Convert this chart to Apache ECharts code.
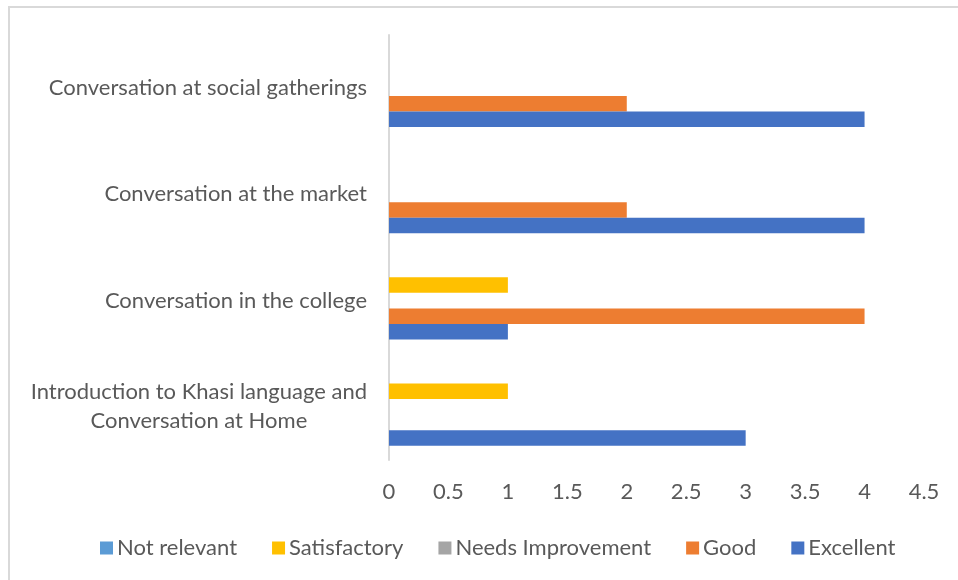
<!DOCTYPE html>
<html>
<head>
<meta charset="utf-8">
<script src="https://cdn.jsdelivr.net/npm/echarts@6/dist/echarts.min.js"></script>
<style>
  html, body { margin: 0; padding: 0; background: #fff; }
  #frame { position: absolute; left: 8px; top: 6px; width: 950px; height: 574px;
           border-top: 2px solid #d9d9d9; border-left: 2px solid #d9d9d9; box-sizing: border-box; }
  #chart { position: absolute; left: 0; top: 0; width: 958px; height: 580px; }
</style>
</head>
<body>
<div id="frame"></div>
<div id="chart"></div>
<script>
// categories bottom -> top
const categories = [
  'Introduction to Khasi language and\nConversation at Home',
  'Conversation in the college',
  'Conversation at the market',
  'Conversation at social gatherings'
]
const excellent = [3, 1, 4, 4]
const good = [0, 4, 2, 2]
const needsImprovement = [0, 0, 0, 0]
const satisfactory = [1, 1, 0, 0]
const notRelevant = [0, 0, 0, 0]
const legendOrder = ['Not relevant', 'Satisfactory', 'Needs Improvement', 'Good', 'Excellent']

const font = 'Lato, "Open Sans", sans-serif'
const textColor = '#595959'
const fs = 22

var myChart = echarts.init(document.getElementById('chart'), null, {renderer: 'canvas'})

const mkSeries = (name, data, color) => ({
  name: name,
  type: 'bar',
  data: data,
  barGap: '0%',
  barCategoryGap: '27%',
  itemStyle: { color: color },
  emphasis: { disabled: true }
})

myChart.setOption({
  animation: false,
  textStyle: { fontFamily: font },
  grid: { left: 389, right: 34, top: 35, bottom: 120, containLabel: false },
  legend: {
    data: legendOrder,
    left: 95,
    top: 532,
    icon: 'rect',
    itemWidth: 13,
    itemHeight: 13,
    itemGap: 35,
    textStyle: { fontSize: fs, color: textColor, fontFamily: font, padding: [0, 0, 0, -1] }
  },
  xAxis: {
    type: 'value',
    min: 0,
    max: 4.5,
    interval: 0.5,
    axisLine: { show: false },
    axisTick: { show: false },
    splitLine: { show: false },
    axisLabel: { fontSize: fs, color: textColor, margin: 21, fontFamily: font }
  },
  yAxis: {
    type: 'category',
    data: categories,
    axisLine: { show: true, lineStyle: { color: '#d9d9d9', width: 2 } },
    axisTick: { show: false },
    axisLabel: {
      margin: 22,
      align: 'right',
      formatter: (text) => '{c|' + text + '}',
      rich: {
        c: { align: 'center', fontSize: fs, color: textColor, fontFamily: font, lineHeight: 29 }
      }
    }
  },
  // ECharts stacks horizontal bars top-down in series order
  series: [
    mkSeries('Not relevant', notRelevant, '#5B9BD5'),
    mkSeries('Satisfactory', satisfactory, '#FFC000'),
    mkSeries('Needs Improvement', needsImprovement, '#A5A5A5'),
    mkSeries('Good', good, '#ED7D31'),
    mkSeries('Excellent', excellent, '#4472C4')
  ]
})
</script>
</body>
</html>
